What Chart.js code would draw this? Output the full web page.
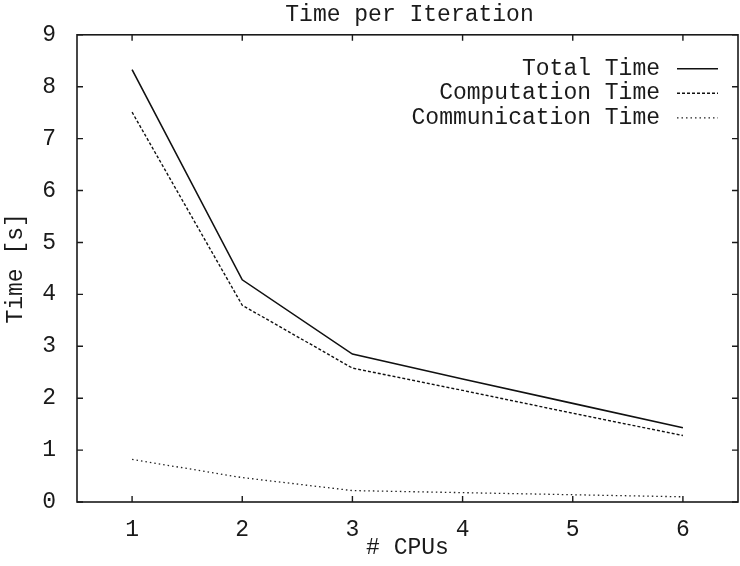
<!DOCTYPE html>
<html>
<head>
<meta charset="utf-8">
<script src="https://cdn.jsdelivr.net/npm/chart.js@4"></script>
<style>
  html, body { margin: 0; padding: 0; background: #fff; }
  #wrap { width: 740px; height: 566px; }
</style>
</head>
<body>
<div id="wrap"><canvas id="chart" width="740" height="566"></canvas></div>
<script>
// values
var cpus = [1, 2, 3, 4, 5, 6];
var totalTime = [8.33, 4.28, 2.85, 2.37, 1.9, 1.43];
var computationTime = [7.51, 3.79, 2.58, 2.15, 1.71, 1.28];
var communicationTime = [0.82, 0.47, 0.22, 0.18, 0.14, 0.10];
var yTicks = [0, 1, 2, 3, 4, 5, 6, 7, 8, 9];
var chartTitle = 'Time per Iteration';

var FONT = "'Liberation Mono', 'DejaVu Sans Mono', monospace";
var INK = '#1a1a1a';

function pts(ys) {
    return cpus.map(function (x, i) { return { x: x, y: ys[i] }; });
}

// gnuplot style frame: box on all sides, ticks pointing inwards on all sides
var framePlugin = {
    id: 'frame',
    afterDraw: function (chart) {
        var ctx = chart.ctx;
        var a = chart.chartArea;
        var xs = chart.scales.x, ys = chart.scales.y;
        var len = 6;
        ctx.save();
        ctx.strokeStyle = INK;
        ctx.lineWidth = 1.6;
        ctx.strokeRect(a.left, a.top, a.right - a.left, a.bottom - a.top);
        ctx.lineWidth = 1.4;
        ctx.beginPath();
        cpus.forEach(function (c) {
            var px = xs.getPixelForValue(c);
            ctx.moveTo(px, a.bottom); ctx.lineTo(px, a.bottom - len);
            ctx.moveTo(px, a.top); ctx.lineTo(px, a.top + len);
        });
        yTicks.forEach(function (v) {
            var py = ys.getPixelForValue(v);
            ctx.moveTo(a.left, py); ctx.lineTo(a.left + len, py);
            ctx.moveTo(a.right, py); ctx.lineTo(a.right - len, py);
        });
        ctx.stroke();

        ctx.font = '23px ' + FONT;
        ctx.fillStyle = INK;
        ctx.textBaseline = 'middle';

        // title centred over the plot box
        ctx.textAlign = 'center';
        ctx.fillText(chartTitle, (a.left + a.right) / 2 + 2, 15);

        // key on the right like gnuplot
        ctx.textAlign = 'right';
        chart.data.datasets.forEach(function (ds, i) {
            var y = a.top + 34 + i * 24.5;
            ctx.fillText(ds.label, a.right - 78, y);
            ctx.save();
            ctx.strokeStyle = ds.borderColor;
            ctx.lineWidth = ds.borderWidth;
            ctx.setLineDash(ds.borderDash || []);
            ctx.beginPath();
            ctx.moveTo(a.right - 61, y);
            ctx.lineTo(a.right - 20, y);
            ctx.stroke();
            ctx.restore();
        });
        ctx.restore();
    }
};

new Chart(document.getElementById('chart').getContext('2d'), {
    type: 'line',
    data: {
        datasets: [{
            label: 'Total Time',
            data: pts(totalTime),
            borderColor: '#111',
            borderWidth: 1.6,
            pointRadius: 0
        }, {
            label: 'Computation Time',
            data: pts(computationTime),
            borderColor: '#111',
            borderWidth: 1.4,
            borderDash: [3, 2],
            pointRadius: 0
        }, {
            label: 'Communication Time',
            data: pts(communicationTime),
            borderColor: '#222',
            borderWidth: 1.3,
            borderDash: [1.5, 3],
            pointRadius: 0
        }]
    },
    options: {
        responsive: false,
        animation: false,
        layout: { padding: { left: 0, right: 2, top: 34, bottom: 0 } },
        plugins: {
            legend: { display: false },
            tooltip: { enabled: false },
            title: { display: false }
        },
        scales: {
            x: {
                type: 'linear',
                min: 0.5,
                max: 6.5,
                afterBuildTicks: function (scale) {
                    scale.ticks = cpus.map(function (c) { return { value: c }; });
                },
                afterFit: function (scale) { scale.height = 64; },
                grid: { display: false, drawTicks: false },
                border: { display: false },
                ticks: {
                    color: INK,
                    padding: 14,
                    maxRotation: 0,
                    font: { family: FONT, size: 23 }
                },
                title: {
                    display: true,
                    text: '# CPUs',
                    color: INK,
                    font: { family: FONT, size: 23 },
                    padding: { top: 0, bottom: 4 }
                }
            },
            y: {
                min: 0,
                max: 9,
                afterBuildTicks: function (scale) {
                    scale.ticks = yTicks.map(function (v) { return { value: v }; });
                },
                afterFit: function (scale) { scale.width = 77; },
                grid: { display: false, drawTicks: false },
                border: { display: false },
                ticks: {
                    color: INK,
                    padding: 21,
                    font: { family: FONT, size: 23 }
                },
                title: {
                    display: true,
                    text: 'Time [s]',
                    color: INK,
                    font: { family: FONT, size: 23 },
                    padding: { top: 2, bottom: 0 }
                }
            }
        }
    },
    plugins: [framePlugin]
});
</script>
</body>
</html>
